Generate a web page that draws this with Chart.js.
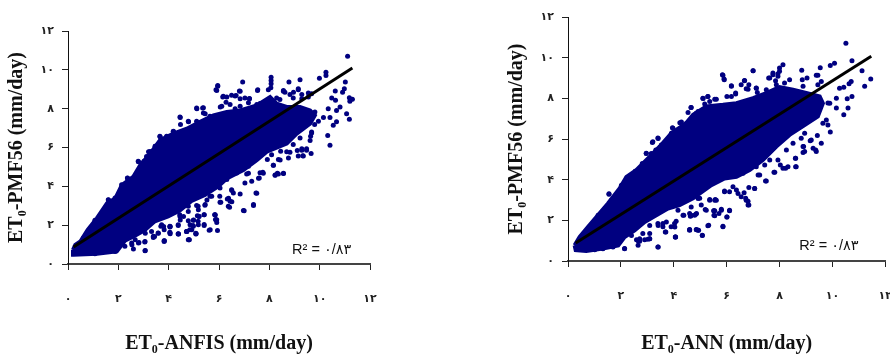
<!DOCTYPE html>
<html>
<head>
<meta charset="utf-8">
<title>ET0 scatter</title>
<script src="https://cdn.jsdelivr.net/npm/chart.js@4/dist/chart.umd.min.js"></script>
<style>
  html, body { margin: 0; padding: 0; background: #fff; overflow: hidden; width: 890px; height: 356px; }
  canvas { position: absolute; top: 0; }
  #anfisChart { left: 0; }
  #annChart { left: 445px; }
</style>
</head>
<body>
<canvas id="anfisChart" width="445" height="356"></canvas>
<canvas id="annChart" width="470" height="356"></canvas>
<script>
const tickValues = [0, 2, 4, 6, 8, 10, 12];
const tickLabels = ['۰', '۲', '۴', '۶', '۸', '۱۰', '۱۲'];
const yAxisTitle = 'ET₀-PMF56 (mm/day)';
const r2Label = 'R² = ۰/۸۳';

// Thousands of overlapping dots can't be read one by one, so the solid middle of
// each cloud is its traced outline (filled), and only the dots that can be told apart are listed.
const anfisCore = [[.2,.73],[.29,.99],[.49,1.16],[.78,1.76],[1.15,2.36],[1.55,3.13],[1.88,3.38],[2.14,4.07],[2.6,4.5],[2.87,5.09],[3.27,5.69],[3.66,6.38],[4.19,6.72],[4.72,6.97],[5.25,7.32],[5.78,7.66],[6.31,7.83],[6.84,7.91],[7.5,8.17],[8.03,8.6],[8.29,8.26],[8.69,8.09],[9.22,8.09],[9.62,7.91],[9.81,7.66],[9.62,7.23],[9.09,6.72],[8.69,6.2],[7.9,5.78],[7.5,5.35],[6.97,4.84],[6.31,4.4],[5.97,4],[5.44,3.55],[4.91,3.25],[4.44,2.75],[3.98,2.45],[3.45,2.2],[3.05,1.75],[2.66,1.45],[2.26,1.2],[1.94,.65],[1.15,.53],[.22,.48],[.2,.73]];
const anfisDots = [[11.11,10.7],[10.25,9.88],[10.25,9.71],[9.99,9.57],[9.22,9.49],[8.78,9.37],[6.94,9.37],[5.95,9.15],[5.91,8.94],[8.07,9.62],[8.07,9.45],[8.07,9.28],[8.06,9.08],[7.96,8.97],[7.53,8.94],[6.81,8.91],[11.02,9.37],[10.98,9.03],[10.91,8.85],[10.62,8.91],[10.48,8.55],[11.18,8.56],[11.3,8.48],[11.2,8.38],[10.63,8.43],[10.81,8.09],[10.67,7.91],[10.34,8],[11.07,7.74],[11.18,7.45],[10.67,7.32],[10.54,7.15],[10.41,7.54],[10.15,7.54],[9.81,7.83],[10.32,6.62],[10.41,6.12],[9.68,6.8],[9.64,6.58],[9.66,5.69],[9.48,5.86],[9.29,5.86],[9.15,5.56],[9.35,5.56],[8.69,5.78],[8.56,4.67],[8.23,4.58],[8.32,4.67],[8.16,5.09],[8.43,5.35],[7.63,4.7],[7.76,4.67],[7.57,4.41],[7.5,3.64],[7.37,3.01],[7,2.74],[6.51,3.78],[6.38,3.38],[6.51,3.21],[6.42,2.92],[5.85,2.53],[5.89,2.27],[5.91,2.14],[5.65,1.76],[5.09,1.56],[4.92,1.76],[4.72,1.68],[4.81,1.25],[4.39,1.54],[4.06,1.56],[3.82,1.16],[3.44,1.42],[3.07,.7],[2.8,1.08],[2.54,.99],[4.46,2.27],[4.99,2.27],[5.21,2.44],[5.52,3.3],[6.04,3.18],[4.46,7.54],[4.79,7.32],[5.12,8],[5.38,8.05],[5.45,7.74],[6.15,8.6],[6.31,8.6],[6.64,8.65],[6.84,8.51],[7.21,8.51],[6.05,8.09],[7.63,8.26],[8.56,8.94],[8.62,8.85],[9.15,9.03],[8.96,8.85],[9.68,8.77],[9.55,8.6],[9.29,8.51],[4.19,6.84],[3.93,6.55],[3.66,6.55],[3.47,6.07],[3.2,5.78],[2.8,5.26],[2.37,4.41],[1.61,3.3],[4.06,1.93],[3.8,1.93],[4.59,2.44],[3.07,1.59],[2.67,1.25],[7.17,4.67]];
const anfisEdgeLow = [[4.45,7.57],[4.47,7.18],[4.78,7.35],[4.18,6.83],[3.65,6.58],[3.92,6.58],[3.46,6.06],[3.26,5.8],[2.79,5.29],[3.02,5.29],[2.86,4.86],[2.36,4.43],[2.13,4.08],[1.6,3.31],[1.47,2.71],[1.07,2.25],[.87,1.77],[.61,1.34],[1.87,3.4],[2.06,3.66],[2.57,4],[3.12,5.54],[3.72,6.06],[4.05,6.32],[4.34,6.49],[4.58,6.75],[3.06,.68],[2.6,.77],[2.53,1.08],[2.82,1.11],[3.06,1.16],[3.39,1.37],[3.59,1.59],[3.83,1.2],[4.05,1.63],[4.38,1.56],[4.82,1.25],[4.71,1.68],[5.08,1.59],[4.85,2.02],[5.18,2.02],[4.38,2.02],[4.05,1.94],[3.72,2.02],[3.32,1.68],[2.86,1.68],[1.87,.65],[1.4,.65],[1.07,.53],[2.26,.91],[4.45,2.45],[5.18,2.8],[4.78,2.71],[3.65,2.45]];
const anfisEdgeHigh = [[5.95,9.19],[5.88,8.98],[6.17,8.64],[6.5,8.69],[6.68,8.68],[6.84,8.9],[7.54,8.98],[7.03,8.55],[7.21,8.52],[5.11,8.04],[5.35,8.04],[5.38,7.78],[6.11,8.13],[6.28,8.33],[6.44,8.21],[6.64,7.99],[6.84,8.13],[7.17,8.3],[7.5,8.21],[8.29,8.55],[8.56,8.9],[8.82,8.73],[9.15,8.98],[8.95,8.55],[9.29,8.73],[9.55,8.81],[8.42,8.47],[5.64,7.61],[5.11,7.35],[9.95,7.35],[9.8,7.18],[9.48,7.27],[9.68,6.75],[9.62,6.36],[9.48,5.93],[9.29,5.93],[9.11,5.84],[9.33,5.58],[8.82,5.75],[8.76,5.46],[8.45,5.81],[8.36,5.38],[8.16,5.08],[8.56,4.66],[8.36,4.64],[8.23,4.57],[7.74,4.72],[7.6,4.43],[7.47,3.66],[7.3,4.26],[7.03,4.17],[7.1,4.64],[6.84,3.61],[6.5,3.83],[6.57,3.66],[6.33,3.35],[6.44,3.23],[6.37,2.97],[6.07,3.18],[7.37,3.06],[6.97,2.75],[5.84,2.54],[5.91,2.28],[5.41,2.54],[5.14,2.49],[4.98,2.25],[5.41,1.98],[4.98,1.94],[5.45,3.06],[5.11,3.01],[5.71,3.49],[6.04,3.92],[6.31,4.35],[6.7,4.69],[7.17,5.03],[7.92,5.38],[8.09,5.63],[8.95,6.15],[9.22,6.49]];
const anfisBand = [[3.69,1.94],[4.05,1.91],[4.38,1.98],[4.38,1.55],[4.05,1.6],[3.82,1.77],[3.58,1.6],[3.39,1.43],[3.05,1.13],[3.82,1.2],[4.71,1.68],[4.84,1.77],[4.97,1.98],[5.08,1.55],[4.78,1.25],[4.78,2.23],[5.17,2.2],[5.2,2.46],[5.41,2.03],[5.41,2.54],[5.61,1.74],[5.83,2.54],[5.86,2.29],[5.94,1.72],[5.44,3.02],[5.17,2.97],[5.64,3.49],[6.03,3.49],[4.78,2.97],[4.44,2.54]];
const anfisLine = [[.22,.87],[11.3,10.09]];
const anfisR2At = [10.08, .73];

const annCore = [[.25,.77],[.44,1.18],[.76,1.68],[1.13,2.25],[1.51,2.83],[1.95,3.57],[2.21,4.14],[2.58,4.47],[3.09,5.13],[3.47,5.63],[3.91,6.28],[4.47,6.78],[4.73,7.19],[5.23,7.6],[5.86,7.68],[6.37,7.76],[7,8.01],[7.5,8.26],[8,8.55],[8.51,8.42],[9.01,8.26],[9.52,8.09],[9.64,7.76],[9.45,7.11],[8.95,6.69],[8.38,6.2],[7.88,5.63],[7.37,4.97],[6.87,4.47],[6.37,4.14],[5.92,4.06],[5.42,3.73],[4.73,3.08],[4.22,2.75],[3.78,2.58],[3.34,2.25],[2.9,1.92],[2.52,1.51],[2.14,1.18],[1.9,.77],[1.32,.61],[.69,.49],[.29,.53],[.25,.77]];
const annDots = [[10.51,10.71],[10.74,9.85],[10.08,9.72],[9.92,9.61],[8.13,9.65],[8,9.49],[7.94,9.21],[7.75,9.24],[7.59,9],[7,9.36],[8.84,9.38],[9.54,9.51],[9.39,9.13],[11.12,9.36],[11.45,8.95],[11.22,8.59],[10.71,8.83],[10.63,8.72],[5.86,9.14],[5.91,8.91],[6.18,8.59],[6.34,8.21],[6.67,8.87],[6.81,8.45],[7.12,8.5],[5.11,7.99],[5.29,8.09],[5.61,7.96],[4.65,7.55],[4.92,7.35],[4.29,6.83],[3.95,6.55],[3.4,6.05],[2.96,5.3],[3.21,5.87],[2.55,4.42],[1.55,3.31],[10.27,8.5],[10.43,8.55],[10.74,8.09],[10.56,7.98],[10.15,8.01],[9.9,7.76],[10.59,7.52],[10.43,7.19],[10.15,7.52],[9.92,6.35],[9.83,6.69],[9.58,5.79],[9.37,5.46],[9.2,5.95],[8.89,5.63],[8.89,5.33],[8.6,5.05],[8.63,4.64],[8.23,4.56],[8.03,4.72],[7.79,4.36],[7.47,3.93],[7.25,4.23],[7.06,3.57],[6.81,2.75],[6.74,2.99],[6.55,3.16],[6.11,2.47],[5.86,1.68],[6.01,2.17],[5.71,2.34],[5.55,2.47],[5.29,1.73],[4.92,1.51],[4.6,1.55],[5.08,1.25],[4.07,1.18],[3.4,.69],[3.09,1.1],[2.65,.99],[2.14,.61],[5.23,2.5],[4.6,2.34],[4.03,1.84],[3.59,1.68],[6.37,3.49],[5.92,3.4],[5.61,2.99]];
const annEdgeLow = [[4.54,7.3],[4.23,6.8],[3.97,6.53],[3.91,6.28],[4.48,6.77],[3.41,6.03],[3.19,5.83],[3.53,5.7],[3.78,5.92],[2.96,5.29],[3.15,5.29],[2.81,4.8],[2.55,4.42],[2.21,4.06],[2.02,3.73],[1.55,3.28],[1.64,2.99],[1.89,3.19],[1.14,2.25],[.88,1.67],[.63,1.34],[1.45,2.58],[2.33,4.14],[2.71,4.55],[3.32,5.46],[3.41,.69],[2.65,.77],[2.14,.6],[1.7,.69],[1.32,.6],[1.01,.55],[3.09,1.1],[2.9,1.05],[2.59,1.05],[4.06,1.18],[3.7,1.43],[4.6,1.54],[4.86,1.54],[4.04,1.67],[3.59,1.84],[3.09,1.75],[4.35,2.25],[4.63,2.2],[4.86,2.33],[4.16,2.5],[4.92,3.07],[2.71,1.1],[2.4,1.26],[3.41,1.75]];
const annEdgeHigh = [[5.84,9.16],[5.9,8.95],[6.18,8.62],[7,9.36],[6.68,8.88],[6.55,8.67],[6.84,8.67],[6.74,8.47],[7.12,8.51],[7.75,9.16],[7.63,9],[7.94,9.08],[8,9.33],[8.86,8.92],[9.04,9],[9.45,9.13],[9.58,8.83],[8.89,8.59],[8.38,8.92],[8.19,8.75],[7.88,8.67],[7.85,8.87],[7.5,8.42],[7.16,8.29],[6.34,8.26],[6.18,8.09],[6.01,8.09],[5.55,7.96],[5.36,7.85],[5.1,8.01],[5.29,8.09],[5.17,7.72],[5.73,7.52],[4.66,7.55],[4.85,7.27],[5.36,7.35],[8.64,8.34],[9.45,8.67],[9.33,8.09],[9.83,7.77],[9.77,6.94],[9.64,6.78],[9.43,6.17],[9.16,5.92],[8.95,6.28],[8.82,6.04],[8.91,5.63],[8.95,5.38],[9.27,5.54],[9.39,5.38],[8.61,5.05],[8.61,4.64],[8.32,4.64],[8.13,4.56],[7.82,4.36],[7.44,4.72],[7.5,3.93],[7.19,4.23],[7.06,3.57],[6.84,3.62],[6.66,3.36],[6.72,3.08],[6.81,2.94],[6.84,2.75],[6.24,3.65],[6.43,3.32],[6.11,3.41],[5.92,3.44],[5.8,2.5],[5.51,2.47],[5.55,2.22],[6.01,2.17],[6.11,2.5],[5.36,2.99],[5.55,2.99],[5.04,2.75],[4.79,2.25],[4.64,2.22],[7.94,4.97],[8.26,5.46],[8.51,5.79],[7.63,4.97],[7.12,4.64],[6.62,4.31]];
const annBand = [[4.06,1.18],[3.68,1.43],[4.6,1.51],[4.85,1.55],[4.94,1.51],[5.32,1.76],[5.08,1.27],[5.86,1.71],[4.66,2.25],[4.83,2.3],[4.38,2.25],[4.09,1.96],[3.9,1.68],[3.09,1.35],[2.83,1.35],[3.02,1.07],[2.71,.97],[5.52,2.25],[5.52,2.47],[5.8,2.55],[5.19,2.53],[5.36,3.03],[5.57,3.03],[4.98,3.08],[3.72,1.92],[3.4,1.84],[4.66,2.66]];
const annLine = [[.29,.89],[11.47,10.07]];
const annR2At = [9.87, .72];

const toPoints = pairs => pairs.map(p => ({ x: p[0], y: p[1] }));

// writes the R2 note at a data position, through the chart's scales
const r2Plugin = {
  id: 'r2Note',
  afterDatasetsDraw(chart, args, opts) {
    const ctx = chart.ctx;
    ctx.save();
    ctx.font = '14.5px "Liberation Sans", "DejaVu Sans"';
    ctx.fillStyle = '#111';
    ctx.textAlign = 'center';
    ctx.textBaseline = 'middle';
    ctx.fillText(r2Label, chart.scales.x.getPixelForValue(opts.at[0]), chart.scales.y.getPixelForValue(opts.at[1]));
    ctx.restore();
  }
};

function axis(title, borderWidth, borderColor, tickPadding, size, titleTop) {
  return {
    type: 'linear',
    min: 0,
    max: 12,
    afterBuildTicks: scale => { scale.ticks = tickValues.map(v => ({ value: v })); },
    afterFit: scale => {
      if (scale.isHorizontal()) scale.height = size; else scale.width = size;
    },
    border: { display: true, color: borderColor, width: borderWidth },
    grid: { drawOnChartArea: false, drawTicks: true, tickLength: 6, tickColor: '#222', tickWidth: 1 },
    ticks: {
      autoSkip: false,
      maxRotation: 0,
      padding: tickPadding,
      color: '#222',
      font: { family: '"DejaVu Sans"', size: 11, weight: 'bold' },
      callback: value => tickLabels[tickValues.indexOf(value)]
    },
    title: {
      display: true,
      text: title,
      color: '#111',
      padding: { top: titleTop, bottom: 0 },
      font: { family: '"Liberation Serif"', size: 20, weight: 'bold' }
    }
  };
}

function makeChart(id, xTitle, core, dots, line, r2At, padding, xHeight) {
  const ctx = document.getElementById(id).getContext('2d');
  return new Chart(ctx, {
    type: 'scatter',
    data: {
      datasets: [
        { data: toPoints(line), showLine: true, borderColor: '#000', borderWidth: 3, pointRadius: 0, order: 1 },
        { data: toPoints(dots), backgroundColor: '#000080', borderWidth: 0, pointRadius: 2.5, showLine: false, order: 2 },
        { data: toPoints(core), showLine: true, fill: 'shape', backgroundColor: '#000080', borderColor: '#000080', borderWidth: 4, pointRadius: 0, order: 3 }
      ]
    },
    options: {
      responsive: false,
      animation: false,
      layout: { padding: padding },
      plugins: {
        legend: { display: false },
        tooltip: { enabled: false },
        r2Note: { at: r2At }
      },
      scales: {
        x: axis(xTitle, 2, '#444', 23, xHeight, 0),
        y: axis(yAxisTitle, 1, '#111', 8, 68, 5)
      }
    },
    plugins: [r2Plugin]
  });
}

makeChart('anfisChart', 'ET₀-ANFIS (mm/day)', anfisCore, anfisDots.concat(anfisEdgeLow, anfisEdgeHigh, anfisBand), anfisLine, anfisR2At,
  { left: 0, right: 75, top: 31, bottom: 0 }, 92);
makeChart('annChart', 'ET₀-ANN (mm/day)', annCore, annDots.concat(annEdgeLow, annEdgeHigh, annBand), annLine, annR2At,
  { left: 55, right: 0, top: 17, bottom: 0 }, 95);
</script>
</body>
</html>
